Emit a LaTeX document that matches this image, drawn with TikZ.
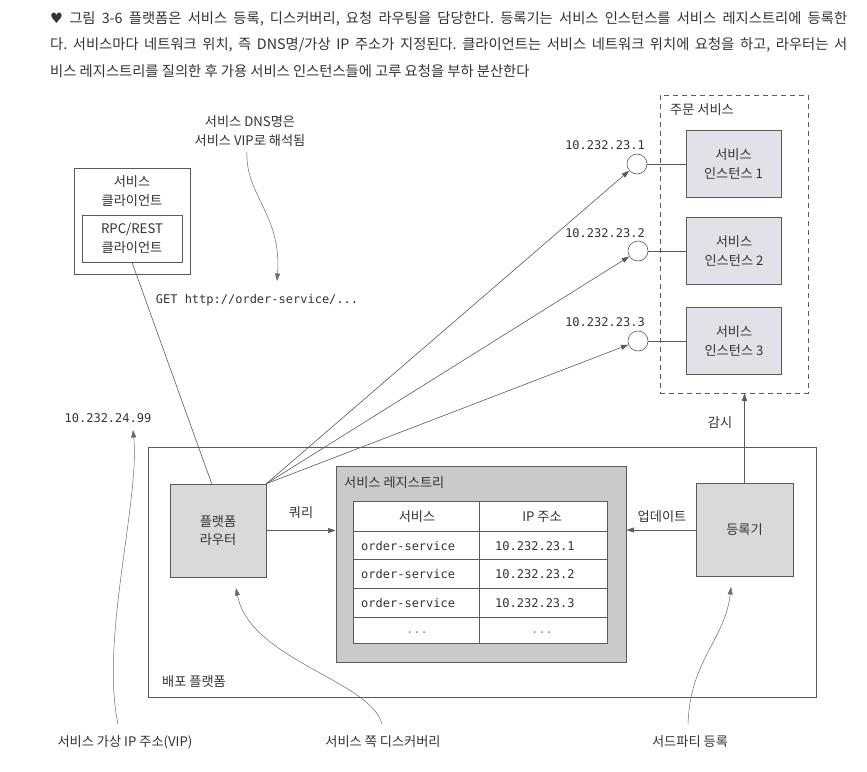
\documentclass[tikz,border=0pt]{standalone}
\usepackage{fontspec}
\setmainfont{Noto Sans CJK KR}
\setmonofont{DejaVu Sans Mono}
\newfontfamily\symfont{DejaVu Sans}
\usetikzlibrary{arrows.meta}
\definecolor{lc}{HTML}{5A5A5A}
\definecolor{txt}{HTML}{333333}
\definecolor{boxfill}{HTML}{D9D9D9}
\definecolor{regfill}{HTML}{CACACA}
\definecolor{instfill}{HTML}{E4E0EA}
\frenchspacing
\begin{document}
\begin{tikzpicture}[x=1pt,y=-1pt,
  every node/.style={text=txt, inner sep=0pt},
  lbl/.style={font=\fontsize{13.2}{18.5}\selectfont, align=center},
  mono/.style={font=\fontsize{12}{14}\selectfont\ttfamily},
  captext/.style={font=\fontsize{14.3}{16}\selectfont, anchor=west},
  graybox/.style={draw=lc, line width=0.6pt, fill=boxfill, lbl},
  instbox/.style={draw=lc, line width=0.6pt, fill=instfill, lbl, minimum width=95pt, minimum height=67pt},
  whitebox/.style={draw=lc, line width=0.6pt, fill=white, lbl},
  cell/.style={draw=lc, line width=0.6pt, fill=white},
  ipcirc/.style={circle, draw=lc, line width=0.6pt, fill=white, minimum size=20pt},
  conn/.style={draw=lc, line width=0.6pt},
  arr/.style={conn, -{Triangle[length=7.5pt,width=5pt]}},
  note/.style={draw=lc!90, line width=0.5pt, -{Triangle[length=7.5pt,width=5pt]}}
]
\useasboundingbox (0,0) rectangle (867,771);
\fill[white] (0,0) rectangle (867,771);

% caption
\node[captext] (cap1) at (50,19) {\makebox[797pt][s]{{\symfont ♥} 그림 3-6 플랫폼은 서비스 등록, 디스커버리, 요청 라우팅을 담당한다. 등록기는 서비스 인스턴스를 서비스 레지스트리에 등록한}};
\node[captext] (cap2) at (50,45) {\makebox[797pt][s]{다. 서비스마다 네트워크 위치, 즉 DNS명/가상 IP 주소가 지정된다. 클라이언트는 서비스 네트워크 위치에 요청을 하고, 라우터는 서}};
\node[captext] (cap3) at (50,71) {비스 레지스트리를 질의한 후 가용 서비스 인스턴스들에 고루 요청을 부하 분산한다};

% deployment platform
\node[draw=lc, line width=0.6pt, fill=white, minimum width=668pt, minimum height=250pt] (platform) at (482,572) {};
\node[lbl, anchor=west] (platlbl) at (162,682) {배포 플랫폼};

% client
\node[whitebox, minimum width=116pt, minimum height=106pt] (client) at (132,221) {};
\node[lbl] (clientlbl) at (132,191) {서비스\\클라이언트};
\node[whitebox, minimum width=100pt, minimum height=47pt] (rpc) at (132,238.5) {RPC/REST\\클라이언트};

% router, registrar
\node[graybox, minimum width=96pt, minimum height=93pt] (router) at (218,530.5) {플랫폼\\라우터};
\node[graybox, minimum width=97pt, minimum height=93pt] (registrar) at (744.5,530) {등록기};

% registry
\node[draw=lc, line width=1pt, fill=regfill, minimum width=290pt, minimum height=196pt] (registry) at (481,564) {};
\node[lbl, anchor=west] (reglbl) at (344,483) {서비스 레지스트리};

% table cells
\node[cell, minimum width=126pt, minimum height=30pt] (h1) at (416,516) {};
\node[cell, minimum width=128pt, minimum height=30pt] (h2) at (543,516) {};
\node[cell, minimum width=126pt, minimum height=28pt] (a1) at (416,545) {};
\node[cell, minimum width=128pt, minimum height=28pt] (a2) at (543,545) {};
\node[cell, minimum width=126pt, minimum height=29pt] (b1) at (416,573.5) {};
\node[cell, minimum width=128pt, minimum height=29pt] (b2) at (543,573.5) {};
\node[cell, minimum width=126pt, minimum height=29pt] (c1) at (416,602.5) {};
\node[cell, minimum width=128pt, minimum height=29pt] (c2) at (543,602.5) {};
\node[cell, minimum width=126pt, minimum height=26pt] (d1) at (416,630) {};
\node[cell, minimum width=128pt, minimum height=26pt] (d2) at (543,630) {};
\node[lbl] (th1) at (417,517) {서비스};
\node[lbl] (th2) at (542,517) {IP 주소};
\node[mono, anchor=west] (ta1) at (361,546) {order-service};
\node[mono, anchor=west] (ta2) at (495,546) {10.232.23.1};
\node[mono, anchor=west] (tb1) at (361,574.5) {order-service};
\node[mono, anchor=west] (tb2) at (495,574.5) {10.232.23.2};
\node[mono, anchor=west] (tc1) at (361,603.5) {order-service};
\node[mono, anchor=west] (tc2) at (495,603.5) {10.232.23.3};
\node[mono, text=lc!70] (td1) at (417,633) {...};
\node[mono, text=lc!70] (td2) at (542,633) {...};

% order service group
\node[draw=lc, line width=0.6pt, dash pattern=on 5pt off 4pt, minimum width=148pt, minimum height=298pt] (group) at (734,244) {};
\node[lbl, anchor=west] (grouplbl) at (670,110) {주문 서비스};
\node[instbox] (inst1) at (733.5,164) {서비스\\인스턴스 1};
\node[instbox] (inst2) at (734,251) {서비스\\인스턴스 2};
\node[instbox] (inst3) at (734,341) {서비스\\인스턴스 3};
\node[ipcirc] (ip1) at (637,164) {};
\node[ipcirc] (ip2) at (638,251) {};
\node[ipcirc] (ip3) at (638,341) {};
\node[mono] (iplbl1) at (605,145) {10.232.23.1};
\node[mono] (iplbl2) at (605,233) {10.232.23.2};
\node[mono] (iplbl3) at (605,322) {10.232.23.3};
\draw[conn] (ip1) -- (inst1.west |- ip1);
\draw[conn] (ip2) -- (inst2.west |- ip2);
\draw[conn] (ip3) -- (inst3.west |- ip3);

% connectors
\draw[conn] (rpc.south) -- ([xshift=42pt]router.north west);
\draw[arr] (router.north east) -- (ip1);
\draw[arr] (router.north east) -- (ip2);
\draw[arr] (router.north east) -- (ip3);
\draw[arr] (router.east) -- (router.east -| registry.west);
\node[lbl] (query) at (301,513) {쿼리};
\draw[arr] (registrar.west) -- (registrar.west -| registry.east);
\node[lbl] (update) at (662,517) {업데이트};
\draw[arr] (registrar.north) -- (registrar.north |- group.south);
\node[lbl] (watch) at (720,423) {감시};

% labels and notes
\node[mono] (get) at (257,300) {GET http://order-service/...};
\node[lbl] (dns) at (250,131) {서비스 DNS명은\\서비스 VIP로 해석됨};
\coordinate (dnsstart) at (247,152);
\coordinate (dnsend) at (277,281);
\draw[note] (dnsstart) .. controls (245,195) and (282,215) .. (dnsend);

\node[mono] (vip) at (108,418) {10.232.24.99};
\node[lbl] (viplbl) at (125,742) {서비스 가상 IP 주소(VIP)};
\coordinate (vipstart) at (118,724);
\coordinate (vipend) at (133,430);
\draw[note] (vipstart) .. controls (100,640) and (140,500) .. (vipend);

\node[lbl] (disclbl) at (383,742) {서비스 쪽 디스커버리};
\coordinate (discstart) at (382,724);
\coordinate (discend) at (236,588);
\draw[note] (discstart) .. controls (370,680) and (250,660) .. (discend);

\node[lbl] (tplbl) at (690,742) {서드파티 등록};
\coordinate (tpstart) at (688,724);
\coordinate (tpend) at (731,587);
\draw[note] (tpstart) .. controls (690,660) and (725,640) .. (tpend);
\end{tikzpicture}
\end{document}
